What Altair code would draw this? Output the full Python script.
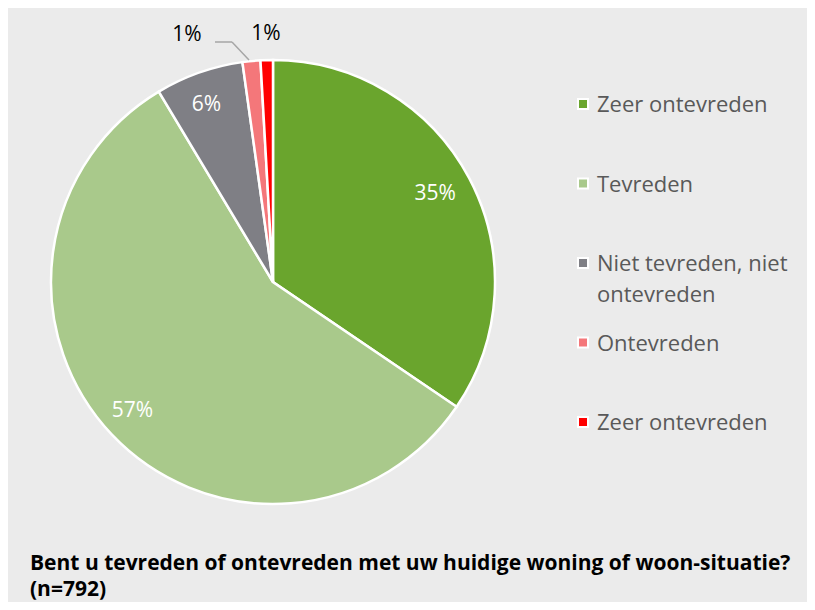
import altair as alt
import pandas as pd

categories = ["Zeer tevreden", "Tevreden", "Niet tevreden, niet ontevreden", "Ontevreden", "Zeer ontevreden"]
legend_labels = ["Zeer ontevreden", "Tevreden", "Niet tevreden, niet\nontevreden", "Ontevreden", "Zeer ontevreden"]
values = [34.5, 56.9, 6.4, 1.3, 0.9]
pct_labels = ["35%", "57%", "6%", "1%", "1%"]
label_place = ["in", "in", "in", "out_left", "out"]
colors = ["#6aa52d", "#a9c98b", "#7f7f85", "#f4777a", "#ff0000"]
order_idx = [0, 1, 2, 3, 4]

title_lines = ["Bent u tevreden of ontevreden met uw huidige woning of woon-situatie?", "(n=792)"]

df = pd.DataFrame({
    "cat": categories,
    "legend": legend_labels,
    "value": values,
    "label": pct_labels,
    "place": label_place,
    "idx": order_idx,
})

CX, CY, R = 265, 274, 222

color_enc = alt.Color(
    "cat:N",
    scale=alt.Scale(domain=categories, range=colors),
    legend=None,
)

base = alt.Chart(df).encode(
    theta=alt.Theta("value:Q", stack=True),
    order=alt.Order("idx:Q"),
)

arcs = base.mark_arc(
    outerRadius=R, x=CX, y=CY, stroke="white", strokeWidth=2.5
).encode(color=color_enc)

txt_in = base.mark_text(
    radius=188, x=CX, y=CY, dx=-4, font="Open Sans", fontSize=21, color="white"
).encode(
    detail="cat:N",
    text=alt.condition("datum.place == 'in'", alt.Text("label:N"), alt.value("")),
)

txt_out = base.mark_text(
    radius=248, x=CX, y=CY, font="Open Sans", fontSize=21, color="black"
).encode(
    detail="cat:N",
    text=alt.condition("datum.place == 'out'", alt.Text("label:N"), alt.value("")),
)

txt_out_left = base.mark_text(
    radius=248, x=CX, y=CY, dx=-62, font="Open Sans", fontSize=21, color="black"
).encode(
    detail="cat:N",
    text=alt.condition("datum.place == 'out_left'", alt.Text("label:N"), alt.value("")),
)

# legend drawn as its own layer
ly = alt.Y("idx:O", scale=alt.Scale(type="point", range=[96, 414], padding=0), axis=None)

leg_sym = alt.Chart(df).mark_square(
    size=100, opacity=1, stroke="white", strokeWidth=2, filled=True
).encode(x=alt.value(575), y=ly, color=color_enc)

leg_txt = alt.Chart(df).mark_text(
    align="left", baseline="alphabetic", dy=8, font="Open Sans", fontSize=22,
    color="#595959", lineBreak="\n", lineHeight=31
).encode(x=alt.value(589), y=ly, text="legend:N")

one = pd.DataFrame({"k": [0]})
leader1 = alt.Chart(one).mark_rule(color="#a6a6a6", strokeWidth=1.5).encode(
    x=alt.value(207), x2=alt.value(224), y=alt.value(34), y2=alt.value(34)
)
leader2 = alt.Chart(one).mark_rule(color="#a6a6a6", strokeWidth=1.5).encode(
    x=alt.value(224), x2=alt.value(241), y=alt.value(34), y2=alt.value(52)
)

title = alt.Chart(one).mark_text(
    text=title_lines, align="left", baseline="alphabetic", font="Open Sans",
    fontSize=21, fontWeight="bold", color="black", lineHeight=26
).encode(x=alt.value(22), y=alt.value(562))

chart = alt.layer(
    arcs, txt_in, txt_out, txt_out_left, leg_sym, leg_txt, leader1, leader2, title
).properties(
    width=799, height=594, background="#ebebeb", padding=0,
    autosize=alt.AutoSizeParams(type="none"),
).configure_view(stroke=None)

chart.save("out.html", embed_options={"renderer": "svg", "actions": False})
